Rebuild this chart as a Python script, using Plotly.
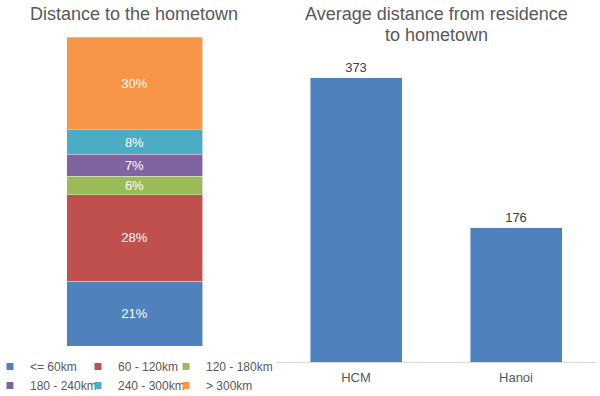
import plotly.graph_objects as go

# Left chart: share of respondents by distance to hometown (%)
dist_labels = ["<= 60km", "60 - 120km", "120 - 180km", "180 - 240km", "240 - 300km", "> 300km"]
dist_values = [21, 28, 6, 7, 8, 30]
dist_colors = ["#4F81BD", "#C0504D", "#9BBB59", "#8064A2", "#4BACC6", "#F79646"]

# Right chart: average distance (km)
cities = ["HCM", "Hanoi"]
avg_distance = [373, 176]

FONT = "Liberation Sans, Arial, sans-serif"
GREY = "#595959"

fig = go.Figure()

for lab, val, col in zip(dist_labels, dist_values, dist_colors):
    fig.add_trace(go.Bar(
        x=["share"], y=[val], name=lab,
        marker=dict(color=col, line=dict(color="rgba(255,255,255,0.6)", width=0.5)),
        width=1.0,
        text=[f"{val}%"], textposition="inside", insidetextanchor="middle",
        textfont=dict(color="white", size=13, family=FONT),
        xaxis="x", yaxis="y", showlegend=False,
    ))

# legend entries (small square keys), laid out as 3 columns x 2 rows like the original
legend_ids = ["legend", "legend2", "legend3"]
for i in [0, 3, 1, 4, 2, 5]:
    fig.add_trace(go.Scatter(
        x=[None], y=[None], mode="markers", name=dist_labels[i],
        marker=dict(symbol="square", size=7, color=dist_colors[i]),
        xaxis="x", yaxis="y", legend=legend_ids[i % 3],
    ))

fig.add_trace(go.Bar(
    x=cities, y=avg_distance, name="avg",
    marker=dict(color="#4F81BD"), width=0.575,
    text=[str(v) for v in avg_distance], textposition="outside",
    textfont=dict(color="#404040", size=13, family=FONT),
    cliponaxis=False,
    xaxis="x2", yaxis="y2", showlegend=False,
))

legend_common = dict(orientation="v", xanchor="left", yanchor="middle", y=1 - 376/396,
                     traceorder="normal", itemwidth=30,
                     font=dict(size=12, color=GREY, family=FONT),
                     bgcolor="rgba(0,0,0,0)")

fig.update_layout(
    width=600, height=396,
    margin=dict(l=0, r=0, t=0, b=0, autoexpand=False),
    paper_bgcolor="white", plot_bgcolor="white",
    barmode="stack",
    font=dict(family=FONT, color=GREY, size=12),
    xaxis=dict(domain=[66.5/600, 202.5/600], range=[-0.5, 0.5], visible=False, fixedrange=True),
    yaxis=dict(domain=[(396-346)/396, (396-37)/396], range=[0, 100], visible=False),
    xaxis2=dict(domain=[276/600, 596/600], range=[-0.5, 1.5], showline=True, linecolor="#D9D9D9",
                linewidth=1, ticks="", showgrid=False, anchor="y2", ticklabelstandoff=3,
                tickfont=dict(size=13, color=GREY, family=FONT)),
    yaxis2=dict(domain=[(396-362)/396, (396-57.4)/396], range=[0, 400], visible=False, anchor="x2"),
    uniformtext=dict(mode="show", minsize=13),
    legend=dict(x=-10/600, **legend_common),
    legend2=dict(x=(-10 + 88)/600, **legend_common),
    legend3=dict(x=(-10 + 176)/600, **legend_common),
    annotations=[
        dict(text="Distance to the hometown", x=134/600, y=1 - 14/396, xref="paper", yref="paper",
             showarrow=False, xanchor="center", yanchor="middle", font=dict(size=18, color=GREY, family=FONT)),
        dict(text="Average distance from residence", x=436/600, y=1 - 14/396, xref="paper", yref="paper",
             showarrow=False, xanchor="center", yanchor="middle", font=dict(size=18, color=GREY, family=FONT)),
        dict(text="to hometown", x=436/600, y=1 - 34.5/396, xref="paper", yref="paper",
             showarrow=False, xanchor="center", yanchor="middle", font=dict(size=18, color=GREY, family=FONT)),
    ],
)

fig.write_html("out.html", config={"displayModeBar": False},
               post_script="document.body.style.margin='0';document.body.style.padding='0';")
